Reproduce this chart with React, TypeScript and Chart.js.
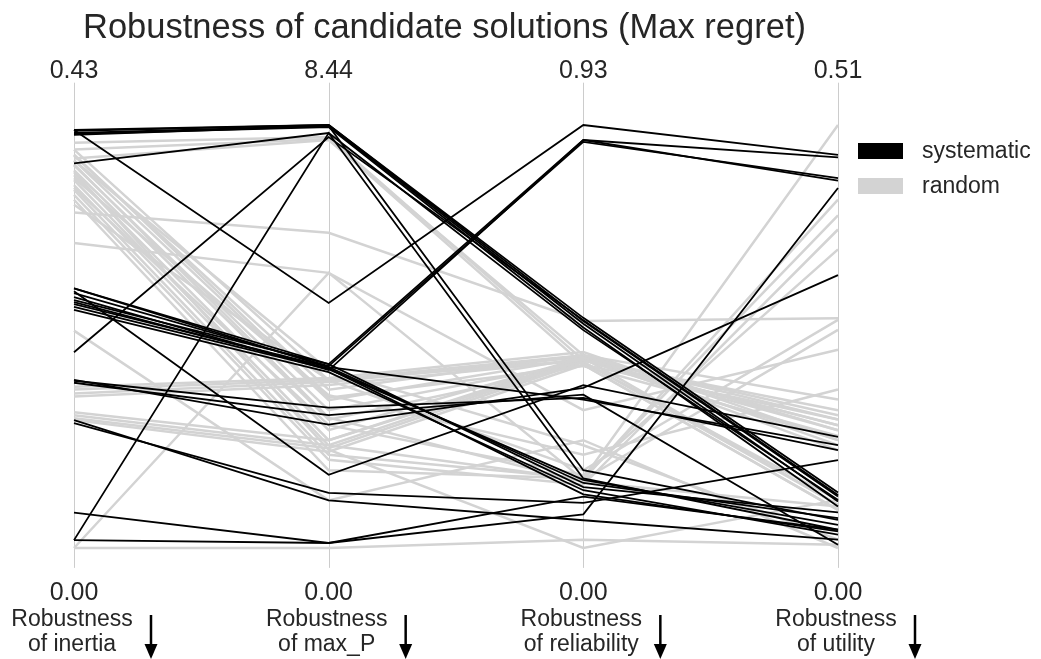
import React, { useEffect, useRef } from "react";
import { Chart, registerables } from "chart.js";

Chart.register(...registerables);

// ---- data ----
const axisKeys = ["inertia", "max_P", "reliability", "utility"];
const axisTitleLines = [
  ["Robustness", "of inertia"],
  ["Robustness", "of max_P"],
  ["Robustness", "of reliability"],
  ["Robustness", "of utility"],
];
const axisMin = [0, 0, 0, 0];
const axisMax = [0.43, 8.44, 0.93, 0.51];
const topTickLabels = ["0.43", "8.44", "0.93", "0.51"];
const bottomTickLabels = ["0.00", "0.00", "0.00", "0.00"];
const titleText = "Robustness of candidate solutions (Max regret)";
const seriesNames = ["systematic", "random"];

// rows: [inertia, max_P, reliability, utility]
const systematic: number[][] = [
  [0.425, 4.89, 0.93, 0.474],
  [0.425, 8.44, 0.506, 0.067],
  [0.424, 8.44, 0.499, 0.062],
  [0.422, 8.42, 0.493, 0.056],
  [0.421, 8.4, 0.485, 0.05],
  [0.42, 8.42, 0.171, 0.034],
  [0.391, 8.28, 0.479, 0.058],
  [0.199, 8.2, 0.501, 0.064],
  [0.008, 8.28, 0.153, 0.022],
  [0.264, 3.67, 0.897, 0.471],
  [0.259, 3.63, 0.893, 0.446],
  [0.255, 3.55, 0.897, 0.443],
  [0.252, 3.67, 0.134, 0.043],
  [0.248, 3.61, 0.143, 0.036],
  [0.245, 3.57, 0.15, 0.028],
  [0.242, 3.51, 0.127, 0.016],
  [0.261, 1.46, 0.358, 0.134],
  [0.171, 2.46, 0.352, 0.329],
  [0.127, 1.1, 0.099, 0.106],
  [0.036, 0.1, 0.074, 0.434],
  [0.008, 0.1, 0.113, 0.022],
  [0.168, 2.65, 0.337, 0.004],
  [0.13, 0.95, 0.061, 0.01],
  [0.264, 3.61, 0.326, 0.124],
  [0.17, 2.8, 0.33, 0.118],
  [0.25, 3.58, 0.118, 0.02],
];

const random: number[][] = [
  [0.412, 8.2, 0.413, 0.166],
  [0.405, 8.16, 0.403, 0.155],
  [0.396, 8.14, 0.424, 0.179],
  [0.405, 3.35, 0.413, 0.13],
  [0.399, 3.16, 0.424, 0.142],
  [0.394, 2.95, 0.418, 0.052],
  [0.389, 2.75, 0.409, 0.058],
  [0.384, 2.56, 0.403, 0.046],
  [0.379, 2.35, 0.418, 0.16],
  [0.374, 2.15, 0.413, 0.148],
  [0.369, 2.05, 0.15, 0.42],
  [0.364, 1.86, 0.153, 0.401],
  [0.359, 1.76, 0.139, 0.384],
  [0.354, 1.55, 0.153, 0.51],
  [0.349, 3.35, 0.171, 0.275],
  [0.341, 6.29, 0.499, 0.277],
  [0.31, 5.49, 0.303, 0.239],
  [0.164, 3.39, 0.431, 0.13],
  [0.161, 3.35, 0.424, 0.124],
  [0.157, 3.31, 0.42, 0.118],
  [0.154, 3.25, 0.413, 0.142],
  [0.138, 2.15, 0.418, 0.155],
  [0.135, 2.05, 0.413, 0.148],
  [0.132, 1.99, 0.409, 0.052],
  [0.13, 1.92, 0.403, 0.046],
  [0.0, 0.0, 0.018, 0.004],
  [0.221, 0.95, 0.237, 0.0],
  [0.382, 1.96, 0.0, 0.058],
  [0.394, 3.55, 0.226, 0.01],
  [0.0, 5.49, 0.15, 0.263],
  [0.376, 3.05, 0.205, 0.191],
  [0.366, 2.45, 0.16, 0.36],
  [0.4, 3.0, 0.4, 0.135],
  [0.39, 2.6, 0.145, 0.05],
];

// ---- styling ----
const SYS_COLOR = "#000000";
const RAND_COLOR = "#d3d3d3";
const TEXT_COLOR = "#262626";
const AXIS_COLOR = "#cccccc";
const FONT = "'Liberation Sans', Arial, Helvetica, sans-serif";

const normalize = (row: number[]) =>
  row.map((v, i) => (v - axisMin[i]) / (axisMax[i] - axisMin[i]));

const decorPlugin = {
  id: "decor",
  beforeDatasetsDraw(chart: any) {
    const { ctx, scales } = chart;
    const xs = scales.x;
    const ys = scales.y;
    ctx.save();
    ctx.strokeStyle = AXIS_COLOR;
    ctx.lineWidth = 1;
    const top = ys.getPixelForValue(1.1);
    const bottom = ys.getPixelForValue(-0.047);
    for (let i = 0; i < axisKeys.length; i++) {
      const x = Math.round(xs.getPixelForValue(i)) + 0.5;
      ctx.beginPath();
      ctx.moveTo(x, top);
      ctx.lineTo(x, bottom);
      ctx.stroke();
    }
    ctx.restore();
  },
  afterDraw(chart: any) {
    const { ctx, scales } = chart;
    const xs = scales.x;
    ctx.save();
    ctx.fillStyle = TEXT_COLOR;
    // title
    ctx.font = `34.5px ${FONT}`;
    ctx.textAlign = "left";
    ctx.textBaseline = "alphabetic";
    ctx.fillText(titleText, 83, 38);

    for (let i = 0; i < axisKeys.length; i++) {
      const x = xs.getPixelForValue(i);
      ctx.fillStyle = TEXT_COLOR;
      ctx.textAlign = "center";
      ctx.font = `25px ${FONT}`;
      ctx.fillText(topTickLabels[i], x, 78);
      ctx.fillText(bottomTickLabels[i], x, 600);
      ctx.font = `23px ${FONT}`;
      ctx.fillText(axisTitleLines[i][0], x - 2, 626);
      ctx.fillText(axisTitleLines[i][1], x - 2, 651);
      // arrow
      const ax = x + 77;
      ctx.strokeStyle = "#000";
      ctx.fillStyle = "#000";
      ctx.lineWidth = 2.5;
      ctx.beginPath();
      ctx.moveTo(ax, 615);
      ctx.lineTo(ax, 646);
      ctx.stroke();
      ctx.beginPath();
      ctx.moveTo(ax - 6.5, 644);
      ctx.lineTo(ax + 6.5, 644);
      ctx.lineTo(ax, 659);
      ctx.closePath();
      ctx.fill();
    }

    // legend
    const legendColors = [SYS_COLOR, RAND_COLOR];
    const legendY = [151, 186];
    ctx.font = `23px ${FONT}`;
    ctx.textAlign = "left";
    ctx.textBaseline = "middle";
    for (let k = 0; k < seriesNames.length; k++) {
      ctx.fillStyle = legendColors[k];
      ctx.fillRect(858, legendY[k] - 8, 45, 16);
      ctx.fillStyle = TEXT_COLOR;
      ctx.fillText(seriesNames[k], 922, legendY[k] + 1);
    }
    ctx.restore();
  },
};

export default function App() {
  const canvasRef = useRef<HTMLCanvasElement | null>(null);

  useEffect(() => {
    if (!canvasRef.current) return;
    const datasets = [
      ...systematic.map((row, i) => ({
        label: i === 0 ? seriesNames[0] : "",
        data: normalize(row),
        borderColor: SYS_COLOR,
        backgroundColor: SYS_COLOR,
        borderWidth: 1.8,
        pointRadius: 0,
        tension: 0,
        fill: false,
        clip: false as any,
      })),
      ...random.map((row, i) => ({
        label: i === 0 ? seriesNames[1] : "",
        data: normalize(row),
        borderColor: RAND_COLOR,
        backgroundColor: RAND_COLOR,
        borderWidth: 2.5,
        pointRadius: 0,
        tension: 0,
        fill: false,
        clip: false as any,
      })),
    ];
    const chart = new Chart(canvasRef.current, {
      type: "line",
      data: { labels: axisKeys, datasets },
      options: {
        animation: false,
        responsive: false,
        devicePixelRatio: 1,
        events: [],
        layout: { padding: { left: 74, right: 203, top: 125, bottom: 111 } },
        scales: {
          x: { display: false, offset: false },
          y: { display: false, min: 0, max: 1 },
        },
        plugins: {
          legend: { display: false },
          tooltip: { enabled: false },
          title: { display: false },
        },
      },
      plugins: [decorPlugin],
    });
    return () => chart.destroy();
  }, []);

  return (
    <div style={{ position: "absolute", left: 0, top: 0, width: 1041, height: 659, background: "#fff" }}>
      <canvas ref={canvasRef} width={1041} height={659} style={{ display: "block" }} />
    </div>
  );
}
